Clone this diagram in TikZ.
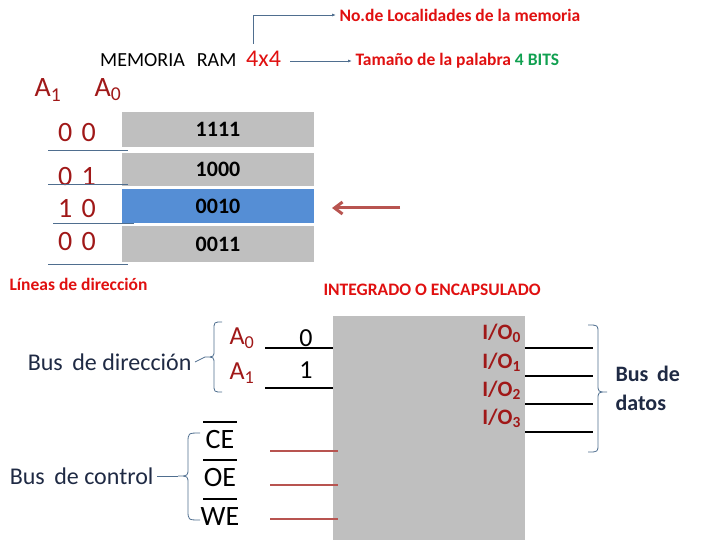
\documentclass[tikz,border=0pt]{standalone}
\usepackage{fontspec}
\setmainfont{Carlito}
\usetikzlibrary{arrows.meta}
\definecolor{dred}{HTML}{A01818}
\definecolor{lred}{HTML}{E01010}
\definecolor{lgreen}{HTML}{10A050}
\definecolor{bgray}{HTML}{4F6E8F}
\definecolor{cellg}{HTML}{BFBFBF}
\definecolor{cellb}{HTML}{558ED5}
\definecolor{arr}{HTML}{B85450}
\definecolor{navy}{HTML}{1F2A44}
\tikzset{
 cell/.style={fill=cellg,minimum width=192pt,minimum height=35pt,inner sep=0,font=\fontsize{22}{22}\selectfont\bfseries},
 bit/.style={text=dred,font=\fontsize{28}{28}\selectfont},
 lbl/.style={text=lred,font=\fontsize{17.5}{17.5}\selectfont\bfseries},
 bus/.style={text=navy,font=\fontsize{24}{24}\selectfont},
 ctl/.style={font=\fontsize{28}{28}\selectfont,inner sep=1pt},
 io/.style={text=dred,font=\fontsize{22}{22}\selectfont\bfseries,inner sep=0},
 conn/.style={bgray,line width=0.8pt},
 pin/.style={line width=2.2pt},
 rpin/.style={arr,line width=2pt},
}
\begin{document}
\begin{tikzpicture}[x=1pt,y=-1pt]
\useasboundingbox (0,0) rectangle (720,540);
% top labels
\node[lbl,anchor=west] (loc) at (336,15) {No.de Localidades de la memoria};
\node[anchor=west,font=\fontsize{20}{20}\selectfont,inner sep=0] (mem) at (100,60) {MEMORIA\hspace{12pt}RAM};
\node[anchor=west,text=lred,font=\fontsize{24}{24}\selectfont,inner sep=0] (x44) at (246,59) {4x4};
\node[lbl,anchor=west] (tam) at (352,61) {Tamaño de la palabra \textcolor{lgreen}{4 BITS}};
\draw[conn,-{Latex[length=4pt]}] (253,44) -- (253,15) -- (loc.west);
\coordinate (c1) at (290,61);
\draw[conn,-{Latex[length=4pt]}] (c1) -- (tam.west);
\node[bit] (a1) at (48,90) {A\textsubscript{1}};
\node[bit] (a0) at (108,90) {A\textsubscript{0}};
% cells
\node[cell] (r1) at (218,129.5) {1111};
\node[cell,minimum height=33pt] (r2) at (218,169.5) {1000};
\node[cell,fill=cellb,minimum height=34pt] (r3) at (218,206) {0010};
\node[cell,minimum height=36pt] (r4) at (218,244) {0011};
\node[bit] (b1) at (77,133) {0\,\,0};
\node[bit] (b2) at (77,177) {0\,\,1};
\node[bit] (b3) at (77,209) {1\,\,0};
\node[bit] (b4) at (77,242) {0\,\,0};
\draw[conn] (48,150) -- (128,150);
\draw[conn] (48,184) -- (128,184);
\draw[conn] (53,223) -- (134,223);
\draw[conn] (48,264) -- (128,264);
\coordinate (ars) at (400,208);
\coordinate (are) at (332,208);
\draw[arr,line width=3pt,-{Straight Barb[length=8pt,width=12pt]}] (ars) -- (are);
\node[lbl,anchor=west] (lin) at (6,284) {Líneas de dirección};
\node[lbl,anchor=west] (int) at (320,290) {INTEGRADO O ENCAPSULADO};
% chip
\fill[cellg] (333,316) rectangle (525,540);
\node[bus,anchor=east] (bd) at (195,362) {Bus\, de dirección};
\node[bus,anchor=east] (bc) at (157,476) {Bus\, de control};
\node[text=dred,font=\fontsize{26}{26}\selectfont] (pa0) at (242,338) {A\textsubscript{0}};
\node[text=dred,font=\fontsize{26}{26}\selectfont] (pa1) at (242,373) {A\textsubscript{1}};
\node[font=\fontsize{26}{26}\selectfont] (v0) at (306,338) {0};
\node[font=\fontsize{26}{26}\selectfont] (v1) at (306,370) {1};
\draw[pin] (265,348) -- (333,348);
\draw[pin] (265,388) -- (333,388);
\node[ctl] (ce) at (220,440) {CE};
\node[ctl] (oe) at (220,478) {OE};
\node[ctl] (we) at (220,517) {WE};
\draw[line width=2.5pt] (203,422) -- (237,422);
\draw[line width=2.5pt] (203,460) -- (237,460);
\draw[line width=2.5pt] (203,499) -- (237,499);
\draw[rpin] (270,451) -- (338,451);
\draw[rpin] (270,485) -- (338,485);
\draw[rpin] (270,519) -- (338,519);
\node[io,anchor=east] (io0) at (521,333) {I/O\textsubscript{0}};
\node[io,anchor=east] (io1) at (521,362) {I/O\textsubscript{1}};
\node[io,anchor=east] (io2) at (521,390) {I/O\textsubscript{2}};
\node[io,anchor=east] (io3) at (521,418) {I/O\textsubscript{3}};
\draw[pin] (525,348) -- (593,348);
\draw[pin] (525,376) -- (593,376);
\draw[pin] (525,404) -- (593,404);
\draw[pin] (525,432) -- (593,432);
\node[bus,anchor=west,align=left,font=\fontsize{22}{29}\selectfont\bfseries] (bdat) at (612,388) {Bus\, de\\datos};
% braces
\draw[conn] (222,322) .. controls (214,322) .. (214,330) -- (214,350) .. controls (214,357) .. (205,357) .. controls (214,357) .. (214,364) -- (214,384) .. controls (214,392) .. (222,392);
\draw[conn] (bd.east) -- (205,357);
\draw[conn] (200,433) .. controls (188,433) .. (188,443) -- (188,468) .. controls (188,476) .. (178,476) .. controls (188,476) .. (188,484) -- (188,510) .. controls (188,520) .. (200,520);
\draw[conn] (bc.east) -- (178,476);
\draw[conn] (588,325) .. controls (598,325) .. (598,333) -- (598,384) .. controls (598,392) .. (607,392) .. controls (598,392) .. (598,400) -- (598,444) .. controls (598,452) .. (588,452);
\end{tikzpicture}
\end{document}
